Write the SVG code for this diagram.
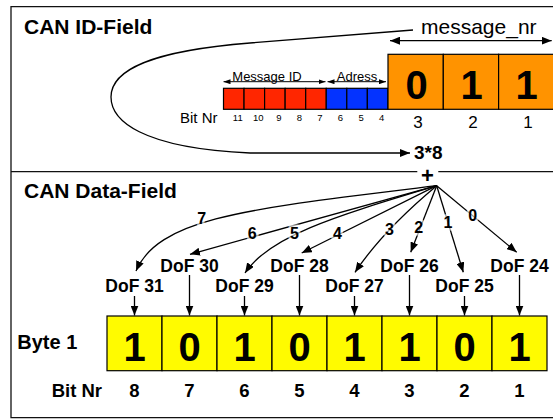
<svg xmlns="http://www.w3.org/2000/svg" width="553" height="419" viewBox="0 0 553 419">
  <defs>
    <style>
      text { font-family: "Liberation Sans", Arial, Helvetica, sans-serif; fill: #000; }
      .frame { fill: none; stroke: #111; stroke-width: 1.3; }
      .cell { stroke: #000; stroke-width: 1.2; }
      .red { fill: #ff2600; }
      .blue { fill: #0433ff; }
      .orange { fill: #ff9300; }
      .yellow { fill: #fffb00; }
      .title { font-size: 21px; font-weight: bold; }
      .big { font-size: 40px; font-weight: bold; text-anchor: middle; }
      .small { font-size: 9.5px; text-anchor: middle; }
      .mid { font-size: 17px; text-anchor: middle; }
      .dof { font-size: 17.5px; font-weight: bold; text-anchor: middle; }
      .bitnr { font-size: 18.5px; font-weight: bold; text-anchor: middle; }
      .lab { font-size: 16px; font-weight: bold; text-anchor: middle; paint-order: stroke; stroke: #fff; stroke-opacity: 0.65; stroke-width: 5px; stroke-linejoin: round; }
      .wire { fill: none; stroke: #000; stroke-width: 1.3; }
      .thin { fill: none; stroke: #000; stroke-width: 1; }
    </style>
    <marker id="ah" viewBox="0 0 10 8" refX="10" refY="4" markerWidth="10" markerHeight="8" markerUnits="userSpaceOnUse" orient="auto-start-reverse">
      <path d="M0,0 L10,4 L0,8 z" fill="#000"/>
    </marker>
    <marker id="ahs" viewBox="0 0 7 5" refX="7" refY="2.5" markerWidth="7" markerHeight="5" markerUnits="userSpaceOnUse" orient="auto-start-reverse">
      <path d="M0,0 L7,2.5 L0,5 z" fill="#000"/>
    </marker>
  </defs>

  <rect width="553" height="419" fill="#fff"/>

  <!-- outer frame and section divider (gap around the "+") -->
  <g id="frame">
    <path class="frame" d="M560,6.7 H11 V417.7 H560"/>
    <line class="frame" x1="11" y1="171.7" x2="417.3" y2="171.7"/>
    <line class="frame" x1="438.3" y1="171.7" x2="560" y2="171.7"/>
  </g>

  <!-- section titles -->
  <g id="title-id">
    <text class="title" x="24" y="34">CAN ID-Field</text>
  </g>
  <g id="title-data">
    <text class="title" x="24" y="198">CAN Data-Field</text>
  </g>

  <!-- 11-bit identifier: message ID bits -->
  <g id="message-id">
    <rect class="cell red" x="223.5" y="88.3" width="20.55" height="21"/>
    <rect class="cell red" x="244.05" y="88.3" width="20.55" height="21"/>
    <rect class="cell red" x="264.6" y="88.3" width="20.55" height="21"/>
    <rect class="cell red" x="285.15" y="88.3" width="20.55" height="21"/>
    <rect class="cell red" x="305.7" y="88.3" width="20.55" height="21"/>
    <text x="267" y="81" style="font-size:13px;text-anchor:middle">Message ID</text>
  </g>

  <g id="adress">
    <rect class="cell blue" x="326.25" y="88.3" width="20.55" height="21"/>
    <rect class="cell blue" x="346.8" y="88.3" width="20.55" height="21"/>
    <rect class="cell blue" x="367.35" y="88.3" width="20.55" height="21"/>
    <text x="357" y="81" style="font-size:13px;text-anchor:middle">Adress</text>
  </g>

  <g id="message-nr">
    <rect class="cell orange" x="388" y="54.3" width="55.3" height="55"/>
    <rect class="cell orange" x="443.3" y="54.3" width="55.3" height="55"/>
    <rect class="cell orange" x="498.6" y="54.3" width="55.3" height="55"/>
    <text class="big" x="416.5" y="99">0</text>
    <text class="big" x="471.5" y="99">1</text>
    <text class="big" x="526.5" y="99">1</text>
    <text x="421" y="34" style="font-size:21px">message_nr</text>
  </g>

  <g id="id-bit-numbers">
    <text x="180" y="123" style="font-size:15px">Bit Nr</text>
    <text class="small" x="237.8" y="121">11</text>
    <text class="small" x="258.3" y="121">10</text>
    <text class="small" x="278.9" y="121">9</text>
    <text class="small" x="299.4" y="121">8</text>
    <text class="small" x="320" y="121">7</text>
    <text class="small" x="340.5" y="121">6</text>
    <text class="small" x="361.1" y="121">5</text>
    <text class="small" x="381.6" y="121">4</text>
    <text class="mid" x="418" y="128.3">3</text>
    <text class="mid" x="473" y="128.3">2</text>
    <text class="mid" x="528" y="128.3">1</text>
  </g>

  <g id="factor">
    <text x="414" y="159.3" style="font-size:19px;font-weight:bold">3*8</text>
  </g>

  <g id="sum">
    <text x="427.5" y="183.3" style="font-size:22px;font-weight:bold;text-anchor:middle">+</text>
  </g>

  <!-- DoF labels: upper row even, lower row odd -->
  <g id="dof-labels">
    <text class="dof" x="134.5" y="291.7">DoF 31</text>
    <text class="dof" x="189.5" y="271.7">DoF 30</text>
    <text class="dof" x="244.5" y="291.7">DoF 29</text>
    <text class="dof" x="299.5" y="271.7">DoF 28</text>
    <text class="dof" x="354.5" y="291.7">DoF 27</text>
    <text class="dof" x="409.5" y="271.7">DoF 26</text>
    <text class="dof" x="464.5" y="291.7">DoF 25</text>
    <text class="dof" x="519.5" y="271.7">DoF 24</text>
  </g>

  <!-- data byte -->
  <g id="byte-1">
    <text x="17.3" y="349" style="font-size:20px;font-weight:bold">Byte 1</text>
    <rect class="cell yellow" x="107" y="316" width="55" height="54.7"/>
    <rect class="cell yellow" x="162" y="316" width="55" height="54.7"/>
    <rect class="cell yellow" x="217" y="316" width="55" height="54.7"/>
    <rect class="cell yellow" x="272" y="316" width="55" height="54.7"/>
    <rect class="cell yellow" x="327" y="316" width="55" height="54.7"/>
    <rect class="cell yellow" x="382" y="316" width="55" height="54.7"/>
    <rect class="cell yellow" x="437" y="316" width="55" height="54.7"/>
    <rect class="cell yellow" x="492" y="316" width="55" height="54.7"/>
    <text class="big" x="134.5" y="360.5">1</text>
    <text class="big" x="189.5" y="360.5">0</text>
    <text class="big" x="244.5" y="360.5">1</text>
    <text class="big" x="299.5" y="360.5">0</text>
    <text class="big" x="354.5" y="360.5">1</text>
    <text class="big" x="409.5" y="360.5">1</text>
    <text class="big" x="464.5" y="360.5">0</text>
    <text class="big" x="519.5" y="360.5">1</text>
  </g>

  <g id="byte-bit-numbers">
    <text x="51.7" y="396.7" style="font-size:18.5px;font-weight:bold">Bit Nr</text>
    <text class="bitnr" x="134.5" y="396.7">8</text>
    <text class="bitnr" x="189.5" y="396.7">7</text>
    <text class="bitnr" x="244.5" y="396.7">6</text>
    <text class="bitnr" x="299.5" y="396.7">5</text>
    <text class="bitnr" x="354.5" y="396.7">4</text>
    <text class="bitnr" x="409.5" y="396.7">3</text>
    <text class="bitnr" x="464.5" y="396.7">2</text>
    <text class="bitnr" x="519.5" y="396.7">1</text>
  </g>

  <g id="connectors">
    <!-- span arrows over the identifier fields -->
    <line class="thin" x1="223.5" y1="81.7" x2="325.5" y2="81.7" marker-start="url(#ahs)" marker-end="url(#ahs)"/>
    <line class="thin" x1="327.5" y1="81.7" x2="386" y2="81.7" marker-start="url(#ahs)" marker-end="url(#ahs)"/>
    <line class="wire" x1="390" y1="40.7" x2="551.7" y2="40.7" marker-start="url(#ah)" marker-end="url(#ah)"/>

    <!-- message_nr loops round to the 3*8 factor -->
    <path class="wire" d="M413,30 L250,43 C150,51 111,70 111,97 C111,120 140,148 250,153 L410,153" marker-end="url(#ah)"/>

    <!-- fan from the sum to each DoF -->
    <path class="wire" d="M436.7,185.7 C260,208 160,215 136,271" marker-end="url(#ah)"/>
    <path class="wire" d="M436.7,185.7 L190,254.3" marker-end="url(#ah)"/>
    <path class="wire" d="M436.7,185.7 C340,215 270,235 245,273" marker-end="url(#ah)"/>
    <path class="wire" d="M436.7,185.7 L301.7,253" marker-end="url(#ah)"/>
    <path class="wire" d="M436.7,185.7 Q383,230.5 355,272.3" marker-end="url(#ah)"/>
    <path class="wire" d="M436.7,185.7 L410.7,252.3" marker-end="url(#ah)"/>
    <path class="wire" d="M436.7,185.7 L463.3,272.3" marker-end="url(#ah)"/>
    <path class="wire" d="M436.7,185.7 L516.7,252.3" marker-end="url(#ah)"/>

    <!-- DoF to bit cell -->
    <line class="wire" x1="134.5" y1="296" x2="134.5" y2="315.5" marker-end="url(#ah)"/>
    <line class="wire" x1="189.5" y1="275" x2="189.5" y2="315.5" marker-end="url(#ah)"/>
    <line class="wire" x1="244.5" y1="296" x2="244.5" y2="315.5" marker-end="url(#ah)"/>
    <line class="wire" x1="299.5" y1="275" x2="299.5" y2="315.5" marker-end="url(#ah)"/>
    <line class="wire" x1="354.5" y1="296" x2="354.5" y2="315.5" marker-end="url(#ah)"/>
    <line class="wire" x1="409.5" y1="275" x2="409.5" y2="315.5" marker-end="url(#ah)"/>
    <line class="wire" x1="464.5" y1="296" x2="464.5" y2="315.5" marker-end="url(#ah)"/>
    <line class="wire" x1="519.5" y1="275" x2="519.5" y2="315.5" marker-end="url(#ah)"/>

    <!-- shift labels on the fan -->
    <text class="lab" x="201.7" y="223.5">7</text>
    <text class="lab" x="252.2" y="239">6</text>
    <text class="lab" x="294.5" y="238.8">5</text>
    <text class="lab" x="337.5" y="239.4">4</text>
    <text class="lab" x="389.5" y="235.4">3</text>
    <text class="lab" x="418.8" y="232.7">2</text>
    <text class="lab" x="448" y="228.2">1</text>
    <text class="lab" x="472.8" y="220.9">0</text>
  </g>
</svg>
